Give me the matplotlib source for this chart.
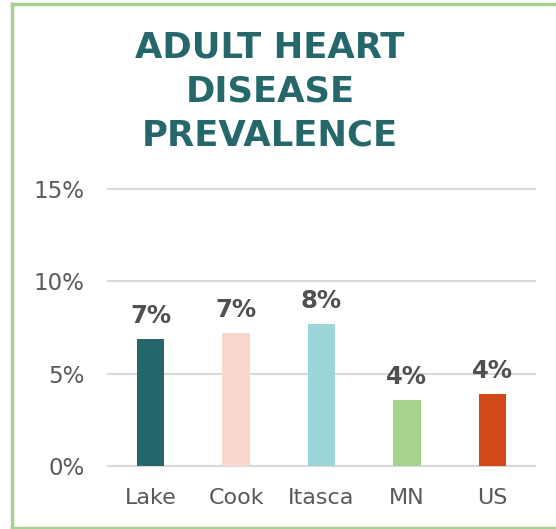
import matplotlib.pyplot as plt
from matplotlib.lines import Line2D

# data
places = ['Lake', 'Cook', 'Itasca', 'MN', 'US']
prevalence = [6.87, 7.2, 7.69, 3.56, 3.89]
bar_colors = ['#25676B', '#F8D7CD', '#9CD6D9', '#A9D18E', '#D04A17']
yticks = [0, 5, 10, 15]

W, H = 556, 529
fig = plt.figure(figsize=(W / 100, H / 100), dpi=100)
ax = fig.add_axes([108 / W, 1 - 465.7 / H, (535 - 108) / W, (465.7 - 189.3) / H])

x = range(len(places))
ax.bar(x, prevalence, width=0.32, color=bar_colors, zorder=3)

for xi, v in zip(x, prevalence):
    ax.annotate(f'{round(v):d}%', (xi, v), xytext=(0, 11.5), textcoords='offset points',
                ha='center', va='baseline', fontsize=17.5, fontweight='bold', color='#505050')

ax.set_xlim(-0.5, len(places) - 0.5)
ax.set_ylim(0, 15)
ax.set_yticks(yticks)
ax.set_yticklabels([f'{t}%' for t in yticks])
ax.set_xticks(list(x))
ax.set_xticklabels(places)
ax.tick_params(axis='y', length=0, pad=17, labelsize=16.5, labelcolor='#595959')
ax.tick_params(axis='x', length=0, pad=16, labelsize=16, labelcolor='#595959')
ax.grid(axis='y', color='#D9D9D9', linewidth=1.5, zorder=0)
for gl in ax.get_ygridlines():
    gl.set_clip_on(False)
for s in ax.spines.values():
    s.set_visible(False)

# title
title_lines = ['ADULT HEART', 'DISEASE', 'PREVALENCE']
for i, t in enumerate(title_lines):
    fig.text(270 / W, 1 - (47.5 + 44 * i) / H, t, ha='center', va='center',
             fontsize=25.5, fontweight='bold', color='#25676B')

# green frame (right side is cut off in the reference)
bc = '#A9D18E'
fig.add_artist(Line2D([12 / W, 12 / W], [1 - 4 / H, 1 - 527.5 / H], color=bc, lw=2.5))
fig.add_artist(Line2D([12 / W, 1], [1 - 4 / H, 1 - 4 / H], color=bc, lw=2.5))
fig.add_artist(Line2D([12 / W, 1], [1 - 527.5 / H, 1 - 527.5 / H], color=bc, lw=2.5))

fig.savefig('out.png', dpi=100)
